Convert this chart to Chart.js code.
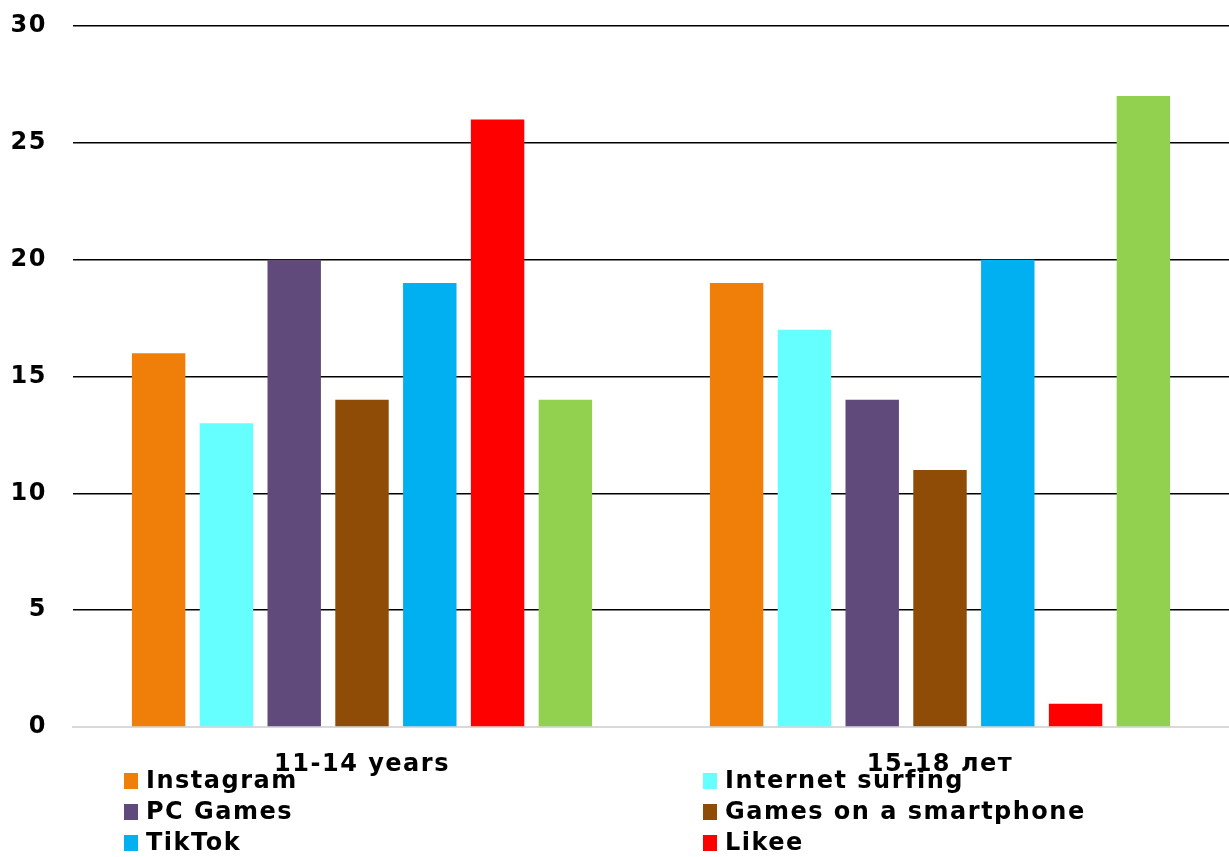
<!DOCTYPE html>
<html>
<head>
<meta charset="utf-8">
<script src="https://cdn.jsdelivr.net/npm/chart.js@4/dist/chart.umd.min.js"></script>
<style>
  html, body { margin: 0; padding: 0; background: #ffffff; }
  #c { display: block; }
</style>
</head>
<body>
<canvas id="c" width="1229" height="857"></canvas>
<script>
const categories = ['11-14 years', '15-18 лет'];
const seriesNames = ['Instagram', 'Internet surfing', 'PC Games', 'Games on a smartphone', 'TikTok', 'Likee', 'Other'];
const instagram = [16, 19];
const internetSurfing = [13, 17];
const pcGames = [20, 14];
const smartphoneGames = [14, 11];
const tiktok = [19, 20];
const likee = [26, 1];
const other = [14, 27];
const yTicks = [0, 5, 10, 15, 20, 25, 30];
const colors = ['#F07F09', '#66FFFF', '#604A7B', '#8F4C06', '#00B0F0', '#FF0000', '#92D050'];
const legendShown = 6;

const seriesValues = [instagram, internetSurfing, pcGames, smartphoneGames, tiktok, likee, other];
const FONT_FAMILY = '"DejaVu Sans", Verdana, sans-serif';

const spacingPlugin = {
  id: 'spacing',
  beforeInit(chart) { chart.ctx.letterSpacing = '1.5px'; },
  beforeLayout(chart) { chart.ctx.letterSpacing = '1.5px'; },
  beforeDraw(chart) { chart.ctx.letterSpacing = '1.5px'; }
};

const legendPlugin = {
  id: 'twoColLegend',
  afterDraw(chart) {
    const ctx = chart.ctx;
    ctx.save();
    ctx.letterSpacing = '1.5px';
    ctx.font = 'bold 24px ' + FONT_FAMILY;
    ctx.textBaseline = 'middle';
    ctx.textAlign = 'left';
    const colX = [124, 703];
    const rowY = [781, 812, 843];
    chart.data.datasets.slice(0, legendShown).forEach((ds, i) => {
      const col = i % 2, row = Math.floor(i / 2);
      const x = colX[col], y = rowY[row];
      ctx.fillStyle = ds.backgroundColor;
      ctx.fillRect(x, y - 8, 14, 16);
      ctx.fillStyle = '#000000';
      ctx.fillText(ds.label, x + 22, y + 1);
    });
    ctx.restore();
  }
};

new Chart(document.getElementById('c'), {
  type: 'bar',
  data: {
    labels: categories,
    datasets: seriesNames.map((name, i) => ({
      label: name,
      data: seriesValues[i],
      backgroundColor: colors[i],
      borderWidth: 0,
      categoryPercentage: 0.821,
      barPercentage: 0.788
    }))
  },
  options: {
    responsive: false,
    devicePixelRatio: 1,
    animation: false,
    layout: { padding: { top: 26, right: 0, bottom: 0, left: 0 } },
    plugins: {
      legend: { display: false },
      tooltip: { enabled: false }
    },
    scales: {
      x: {
        grid: { display: false, drawTicks: false },
        border: { display: true, color: '#D9D9D9', width: 2 },
        ticks: {
          color: '#000000',
          padding: 23,
          font: { family: FONT_FAMILY, size: 24, weight: 'bold' }
        },
        afterFit(scale) { scale.height = 130; }
      },
      y: {
        min: 0,
        max: 30,
        afterBuildTicks(scale) { scale.ticks = yTicks.map(v => ({ value: v })); },
        grid: {
          drawTicks: false,
          color: ctx => (ctx.tick && ctx.tick.value === 0) ? '#D9D9D9' : '#000000',
          lineWidth: 1.5
        },
        border: { display: false },
        ticks: {
          color: '#000000',
          padding: 26,
          font: { family: FONT_FAMILY, size: 24, weight: 'bold' }
        },
        afterFit(scale) {
          scale.width = 73;
          scale.paddingTop = 0;
          scale.paddingBottom = 0;
        }
      }
    }
  },
  plugins: [spacingPlugin, legendPlugin]
});
</script>
</body>
</html>
